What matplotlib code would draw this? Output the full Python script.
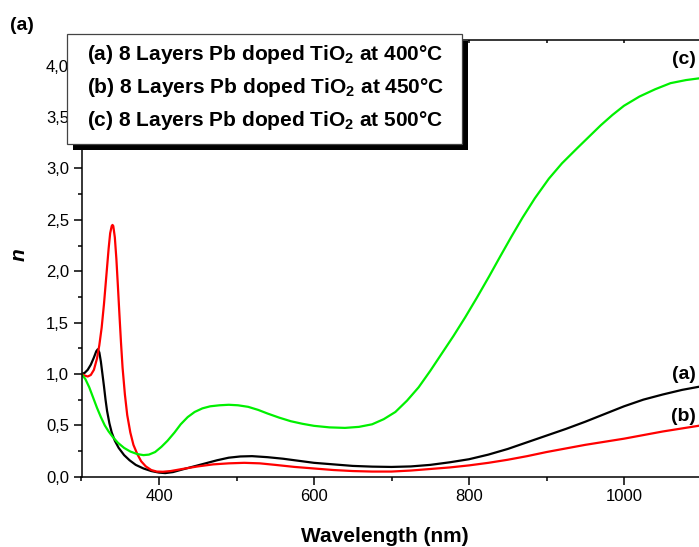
import numpy as np
import matplotlib
matplotlib.use('Agg')
import matplotlib.pyplot as plt
from matplotlib.patches import Rectangle
from matplotlib.ticker import MultipleLocator, FuncFormatter

plt.rcParams['font.family'] = ['Liberation Sans', 'DejaVu Sans']
plt.rcParams['mathtext.fontset'] = 'custom'
plt.rcParams['mathtext.rm'] = 'Liberation Sans'
plt.rcParams['mathtext.bf'] = 'Liberation Sans:bold'

# (a) 400 C, black
wl_a = [300, 304, 308, 312, 316, 319, 321, 323, 325, 327, 329, 331, 333, 336, 339,
        343, 348, 355, 362, 370, 380, 390, 400, 408, 418, 430, 445, 460, 475, 490,
        505, 520, 540, 560, 580, 600, 625, 650, 675, 700, 725, 750, 775, 800, 825,
        850, 875, 900, 925, 950, 975, 1000, 1025, 1050, 1075, 1100]
n_a = [1.00, 1.01, 1.04, 1.09, 1.16, 1.22, 1.24, 1.21, 1.12, 1.00, 0.88, 0.75, 0.64, 0.52, 0.43,
       0.35, 0.28, 0.21, 0.16, 0.115, 0.08, 0.055, 0.04, 0.035, 0.045, 0.07, 0.10, 0.13, 0.16, 0.185,
       0.197, 0.20, 0.19, 0.175, 0.155, 0.135, 0.12, 0.105, 0.098, 0.095, 0.10, 0.115, 0.14, 0.17, 0.215,
       0.27, 0.335, 0.40, 0.465, 0.535, 0.61, 0.685, 0.75, 0.80, 0.845, 0.88]

# (b) 450 C, red
wl_b = [300, 304, 308, 312, 316, 320, 323, 326, 329, 332, 335, 337, 339, 340, 341,
        343, 345, 347, 349, 351, 353, 356, 359, 363, 367, 372, 377, 383, 390, 397,
        405, 415, 430, 450, 470, 490, 510, 530, 550, 575, 600, 625, 650, 675, 700,
        725, 750, 775, 800, 825, 850, 875, 900, 925, 950, 975, 1000, 1025, 1050, 1075, 1100]
n_b = [1.00, 0.985, 0.975, 0.99, 1.04, 1.15, 1.28, 1.45, 1.68, 1.95, 2.22, 2.37, 2.44, 2.45, 2.44,
       2.33, 2.12, 1.85, 1.57, 1.30, 1.06, 0.80, 0.60, 0.43, 0.31, 0.22, 0.15, 0.10, 0.065, 0.05,
       0.048, 0.055, 0.075, 0.10, 0.12, 0.13, 0.135, 0.13, 0.115, 0.095, 0.08, 0.065, 0.055, 0.05, 0.05,
       0.06, 0.075, 0.09, 0.11, 0.135, 0.165, 0.20, 0.24, 0.275, 0.31, 0.34, 0.37, 0.405, 0.44, 0.47, 0.50]

# (c) 500 C, green
wl_c = [300, 305, 310, 315, 320, 325, 330, 335, 340, 347, 355, 363, 372, 380, 387,
        395, 403, 411, 420, 428, 437, 446, 456, 466, 478, 490, 502, 515, 528, 540,
        555, 570, 585, 600, 620, 640, 658, 675, 690, 705, 720, 735, 750, 765, 780,
        795, 810, 826, 840, 855, 869, 885, 903, 920, 940, 955, 970, 985, 1000, 1020,
        1040, 1060, 1080, 1100]
n_c = [1.00, 0.95, 0.87, 0.77, 0.67, 0.58, 0.50, 0.44, 0.39, 0.33, 0.28, 0.245, 0.22, 0.21, 0.215,
       0.24, 0.29, 0.35, 0.43, 0.51, 0.58, 0.63, 0.665, 0.685, 0.695, 0.70, 0.695, 0.68, 0.65, 0.615,
       0.575, 0.54, 0.515, 0.495, 0.48, 0.475, 0.485, 0.51, 0.56, 0.63, 0.74, 0.87, 1.03, 1.20, 1.37,
       1.55, 1.74, 1.95, 2.14, 2.34, 2.52, 2.71, 2.90, 3.05, 3.20, 3.31, 3.42, 3.52, 3.61, 3.70,
       3.77, 3.83, 3.86, 3.88]

legend_labels = [r'(a) 8 Layers Pb doped TiO$_\mathbf{2}$ at 400°C',
                 r'(b) 8 Layers Pb doped TiO$_\mathbf{2}$ at 450°C',
                 r'(c) 8 Layers Pb doped TiO$_\mathbf{2}$ at 500°C']

W, H = 699, 547
fig = plt.figure(figsize=(W / 100, H / 100), dpi=100)


def fx(px):
    return px / W


def fy(py):
    return 1 - py / H


ax = fig.add_axes([fx(81.5), fy(476.7), 620 / W, 436.7 / H])
ax.plot(wl_a, n_a, color='black', lw=1.6)
ax.plot(wl_b, n_b, color='#ff0000', lw=1.6)
ax.plot(wl_c, n_c, color='#00f000', lw=1.6)

ax.set_xlim(300, 1100)
ax.set_ylim(0, 4.25)
ax.xaxis.set_major_locator(MultipleLocator(200))
ax.xaxis.set_minor_locator(MultipleLocator(100))
ax.yaxis.set_major_locator(MultipleLocator(0.5))
ax.yaxis.set_minor_locator(MultipleLocator(0.25))
ax.xaxis.set_major_formatter(FuncFormatter(lambda v, p: '' if v < 350 else f'{v:.0f}'))
ax.yaxis.set_major_formatter(FuncFormatter(lambda v, p: f'{v:.1f}'.replace('.', ',')))
ax.tick_params(which='major', length=5.5, width=1.1, labelsize=12, pad=3.5)
ax.tick_params(which='minor', length=3, width=1.1)
ax.tick_params(axis='x', which='both', top=True, labeltop=False)
for t in ax.xaxis.get_major_ticks() + ax.xaxis.get_minor_ticks():
    t.tick2line.set_marker(3)
    t.tick2line.set_markersize(2.5)
for s in ax.spines.values():
    s.set_linewidth(1.1)

ax.set_xlabel('Wavelength (nm)', fontsize=15, fontweight='bold', va='center')
ax.xaxis.set_label_coords((385 - 81.5) / 620, -(537 - 476.7) / 436.7)
fig.text(fx(19), fy(255), 'n', rotation=90, ha='center', va='center',
         fontsize=15, fontweight='bold', fontstyle='italic')
fig.text(fx(10), fy(25), '(a)', ha='left', va='center', fontsize=14, fontweight='bold')

ax.text(1093, 4.06, '(c)', ha='right', va='center', fontsize=14, fontweight='bold')
ax.text(1093, 0.99, '(a)', ha='right', va='center', fontsize=14, fontweight='bold')
ax.text(1093, 0.59, '(b)', ha='right', va='center', fontsize=14, fontweight='bold')

# boxed legend with hard shadow
fig.add_artist(Rectangle((fx(73), fy(150)), fx(468) - fx(73), fy(41) - fy(150),
                         transform=fig.transFigure, facecolor='black', edgecolor='none', zorder=5))
fig.add_artist(Rectangle((fx(67), fy(144)), fx(462) - fx(67), fy(34) - fy(144),
                         transform=fig.transFigure, facecolor='white', edgecolor='#444444',
                         lw=0.9, zorder=6))
for lab, base in zip(legend_labels, [60.5, 93, 125.5]):
    fig.text(fx(87), fy(base), lab, ha='left', va='baseline', fontsize=15,
             fontweight='bold', zorder=7)

fig.savefig('out.png', dpi=100)
